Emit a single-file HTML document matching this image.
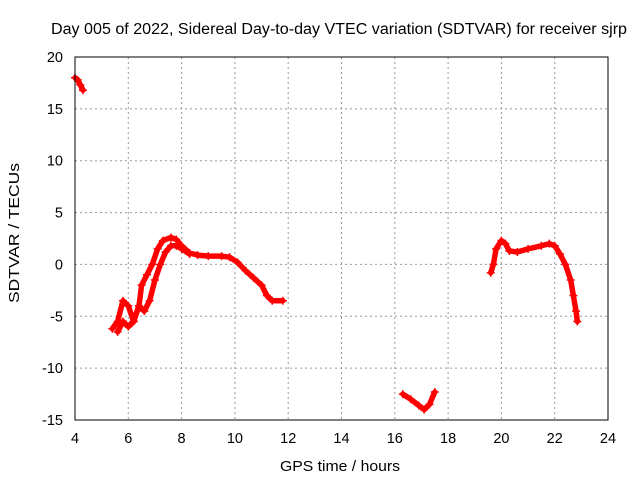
<!DOCTYPE html>
<html><head><meta charset="utf-8"><style>
body{margin:0;background:#fff;}
svg{display:block;font-family:"Liberation Sans",sans-serif;}
</style></head><body>
<svg id="chart" width="640" height="480" xmlns="http://www.w3.org/2000/svg">
<text x="339" y="34" font-size="15.5" text-anchor="middle" textLength="576" lengthAdjust="spacingAndGlyphs" fill="#000">Day 005 of 2022, Sidereal Day-to-day VTEC variation (SDTVAR) for receiver sjrp</text>
<g id="grid"></g>
<g id="series"></g>
<rect x="75" y="57" width="533" height="363" fill="none" stroke="#000" stroke-width="1"/>
<g id="ticks"></g>
<text x="340" y="471" font-size="15" text-anchor="middle" textLength="120" lengthAdjust="spacingAndGlyphs">GPS time / hours</text>
<text transform="translate(19,233) rotate(-90)" font-size="15" text-anchor="middle" textLength="140" lengthAdjust="spacingAndGlyphs">SDTVAR / TECUs</text>
</svg>
<script>
const xTicks=[4,6,8,10,12,14,16,18,20,22,24];
const yTicks=[20,15,10,5,0,-5,-10,-15];
const segA_x=[4.0,4.1,4.2,4.3];
const segA_y=[18,17.8,17.3,16.8];
const segB1_x=[5.4,5.6,5.8,6.0,6.2,6.4,6.5,6.7,6.9,7.1,7.3,7.6,7.8,8.0,8.3,8.6,9.0,9.5,9.8,10.1,10.4,10.7,11.0,11.2,11.4,11.8];
const segB1_y=[-6.2,-5.5,-3.5,-4,-5.5,-4,-2,-1,0,1.5,2.3,2.6,2.4,1.8,1.1,0.9,0.8,0.8,0.7,0.2,-0.6,-1.3,-2.0,-3.0,-3.5,-3.5];
const segB2_x=[5.6,5.8,6.0,6.2,6.4,6.6,6.8,7.0,7.2,7.4,7.6,7.8,8.0,8.3];
const segB2_y=[-6.5,-5.5,-6,-5.5,-4,-4.5,-3.5,-1.5,0,1.2,1.8,1.8,1.5,1.0];
const segC_x=[16.3,16.6,16.9,17.1,17.3,17.5];
const segC_y=[-12.5,-13,-13.6,-14,-13.5,-12.3];
const segD_x=[19.6,19.7,19.8,20.0,20.15,20.3,20.6,21.0,21.5,21.8,22.0,22.2,22.4,22.6,22.7,22.8,22.85];
const segD_y=[-0.8,0,1.5,2.3,2.0,1.3,1.2,1.5,1.8,2.0,1.8,1.0,0,-1.5,-3,-4.5,-5.5];
const X0=75,X1=608,Y0=420,Y1=57;
const xs=h=>X0+(h-4)/20*(X1-X0);
const ys=v=>Y0-(v+15)/35*(Y0-Y1);
const NS="http://www.w3.org/2000/svg";
const grid=document.getElementById('grid'),ticks=document.getElementById('ticks'),ser=document.getElementById('series');
function mk(t,a,p){const e=document.createElementNS(NS,t);for(const k in a)e.setAttribute(k,a[k]);p.appendChild(e);return e;}
xTicks.forEach(t=>{const x=xs(t);
 if(t>4&&t<24){const g=mk('line',{x1:x,x2:x,y1:Y1,y2:Y0,stroke:'#999','stroke-dasharray':'2,3'},grid);
 
 }
 const l=mk('text',{x:x,y:Y0+23,'font-size':14.5,'text-anchor':'middle'},ticks);l.textContent=t;
 
 });
yTicks.forEach(t=>{const y=ys(t);
 if(t>-15&&t<20){const g=mk('line',{x1:X0,x2:X1,y1:y,y2:y,stroke:'#999','stroke-dasharray':'2,3'},grid);
 
 }
 const l=mk('text',{x:X0-12,y:y+5,'font-size':14.5,'text-anchor':'end'},ticks);l.textContent=t;
 
 });
[[segA_x,segA_y,'segment-a'],[segB1_x,segB1_y,'segment-b-upper'],[segB2_x,segB2_y,'segment-b-lower'],[segC_x,segC_y,'segment-c'],[segD_x,segD_y,'segment-d']].forEach(([hx,vy,n])=>{
 const pts=hx.map((h,i)=>xs(h)+','+ys(vy[i])).join(' ');
 const pl=mk('polyline',{points:pts,fill:'none',stroke:'#f00','stroke-width':5.5,'stroke-linejoin':'round','stroke-linecap':'round'},ser);
 
 
 hx.forEach((h,i)=>{const x=xs(h),y=ys(vy[i]);
  const m=mk('path',{d:`M${x-4},${y}H${x+4}M${x},${y-4}V${y+4}`,stroke:'#f00','stroke-width':1.5},ser);
  
  });
});
</script>
</body></html>
